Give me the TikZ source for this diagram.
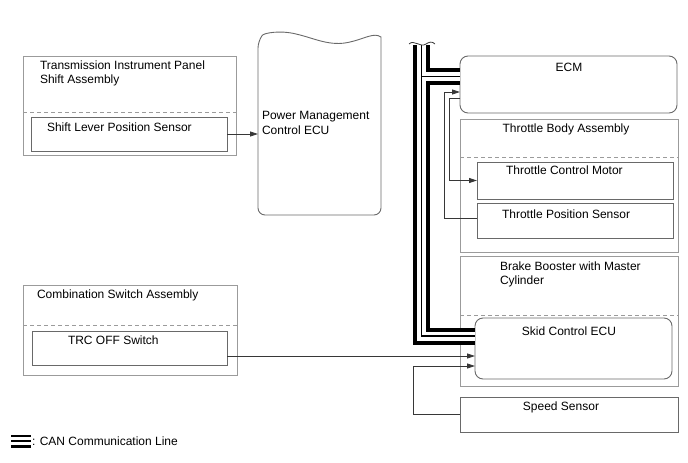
\documentclass[tikz,border=0pt]{standalone}
\usepackage{fontspec}
\setmainfont{Liberation Sans}
\usetikzlibrary{arrows.meta,calc}
\definecolor{boxgray}{RGB}{155,155,155}
\definecolor{innergray}{RGB}{105,105,105}
\definecolor{wirec}{RGB}{55,55,55}
\begin{document}
\begin{tikzpicture}[x=1pt,y=-1pt,
  every node/.style={inner sep=0pt, outer sep=0pt},
  txt/.style={font=\fontsize{12}{14}\selectfont, text=black},
  outerbox/.style={draw=boxgray, line width=0.9pt, rectangle, anchor=north west},
  innerbox/.style={draw=innergray, line width=0.9pt, rectangle, anchor=north west},
  roundbox/.style={draw=innergray, line width=0.9pt, rectangle, rounded corners=8pt, anchor=north west},
  dashsep/.style={draw=boxgray, line width=0.9pt, dash pattern=on 4pt off 3pt},
  wire/.style={draw=wirec, line width=0.8pt},
  arr/.style={wire, -{Triangle[length=8pt,width=5pt]}},
  canB/.style={draw=black, line width=17pt},
  canW/.style={draw=white, line width=9pt},
  canT/.style={draw=black, line width=1.2pt}
]
\useasboundingbox (0,0) rectangle (688,463);

% ---------- Transmission Instrument Panel Shift Assembly
\node[outerbox, minimum width=213pt, minimum height=99pt] (tips) at (23,56) {};
\node[txt, anchor=base west] (tipsT1) at (40,69) {Transmission Instrument Panel};
\node[txt, anchor=base west] (tipsT2) at (40,83) {Shift Assembly};
\draw[dashsep] (23,112) -- (236,112);
\node[innerbox, minimum width=196pt, minimum height=34pt] (slps) at (31,117) {};
\node[txt, anchor=base west] (slpsT) at (47,131) {Shift Lever Position Sensor};

% ---------- Power Management Control ECU
\node[anchor=north west, minimum width=123pt, minimum height=179pt] (pm) at (258,36) {};
\draw[draw=innergray, line width=0.9pt]
  (258,41) .. controls (264,33) and (280,30) .. (296,34)
  .. controls (314,38) and (330,47) .. (350,42)
  .. controls (364,39) and (374,32) .. (381,37)
  [rounded corners=7pt] -- (381,215) -- (258,215) -- cycle;
\node[txt, anchor=base west] (pmT1) at (262,119) {Power Management};
\node[txt, anchor=base west] (pmT2) at (262,134) {Control ECU};

% ---------- Combination Switch Assembly
\node[outerbox, minimum width=214pt, minimum height=90pt] (csa) at (23,285) {};
\node[txt, anchor=base west] (csaT) at (37,298) {Combination Switch Assembly};
\draw[dashsep] (23,325) -- (237,325);
\node[innerbox, minimum width=195pt, minimum height=34pt] (trc) at (32,331) {};
\node[txt, anchor=base west] (trcT) at (68,344) {TRC OFF Switch};

% ---------- ECM
\node[roundbox, minimum width=217pt, minimum height=57pt] (ecm) at (460,56) {};
\node[txt, anchor=base] (ecmT) at (569,71) {ECM};

% ---------- Throttle Body Assembly
\node[outerbox, minimum width=218pt, minimum height=133pt] (tba) at (460,119) {};
\node[txt, anchor=base] (tbaT) at (566,132) {Throttle Body Assembly};
\draw[dashsep] (460,157) -- (678,157);
\node[innerbox, minimum width=196pt, minimum height=37pt] (tcm) at (477,162) {};
\node[txt, anchor=base west] (tcmT) at (506,174) {Throttle Control Motor};
\node[innerbox, minimum width=196pt, minimum height=35pt] (tps) at (477,203) {};
\node[txt, anchor=base west] (tpsT) at (502,218) {Throttle Position Sensor};

% ---------- Brake Booster with Master Cylinder
\node[outerbox, minimum width=218pt, minimum height=130pt] (bbm) at (460,256) {};
\node[txt, anchor=base west] (bbmT1) at (500,270) {Brake Booster with Master};
\node[txt, anchor=base west] (bbmT2) at (500,284) {Cylinder};
\draw[dashsep] (460,315) -- (678,315);
\node[roundbox, minimum width=197pt, minimum height=61pt] (skid) at (475,318) {};
\node[txt, anchor=base] (skidT) at (569,335) {Skid Control ECU};

% ---------- Speed Sensor
\node[innerbox, minimum width=218pt, minimum height=35pt] (ss) at (460,397) {};
\node[txt, anchor=base] (ssT) at (561,410) {Speed Sensor};

% ---------- Signal wires
\draw[arr] (slps.east) -- (slps.east -| pm.west);
\draw[arr] ([yshift=-8pt]trc.east) coordinate (trcout) -- (trcout -| skid.west);
\coordinate (ssx) at (413,0);
\draw[arr] (ss.west) -- (ss.west -| ssx) |- ([yshift=-17.5pt]skid.west);
\draw[arr] ([yshift=2.5pt]tps.west) -- ++(-33,0) |- ([yshift=-7.5pt]ecm.west);
\draw[arr] ([yshift=-13.5pt]ecm.west) -- ++(-11,0) |- (tcm.west);

% ---------- CAN bus
\coordinate (bt) at (421.5,45);
\coordinate (becm) at ([yshift=8pt]ecm.west);
\coordinate (bskid) at ([yshift=12.5pt]skid.west);
\draw[canB] (bt) |- (bskid) (bt |- becm) -- (becm);
\draw[canW] (bt) |- (bskid) (bt |- becm) -- (becm);
\draw[canT] (bt) |- (bskid) (bt |- becm) -- (becm);
\draw[wire] (409,44) .. controls (414,39) and (420,48) .. (426,44) .. controls (429,42) and (432,41) .. (435,44);

% ---------- Legend
\draw[draw=black, line width=13pt] (11,441) -- (31,441);
\draw[draw=white, line width=8pt] (10,441) -- (32,441);
\draw[draw=black, line width=2pt] (11,441) -- (31,441);
\node[txt, anchor=base west] (leg) at (32,445) {: CAN Communication Line};
\end{tikzpicture}
\end{document}
